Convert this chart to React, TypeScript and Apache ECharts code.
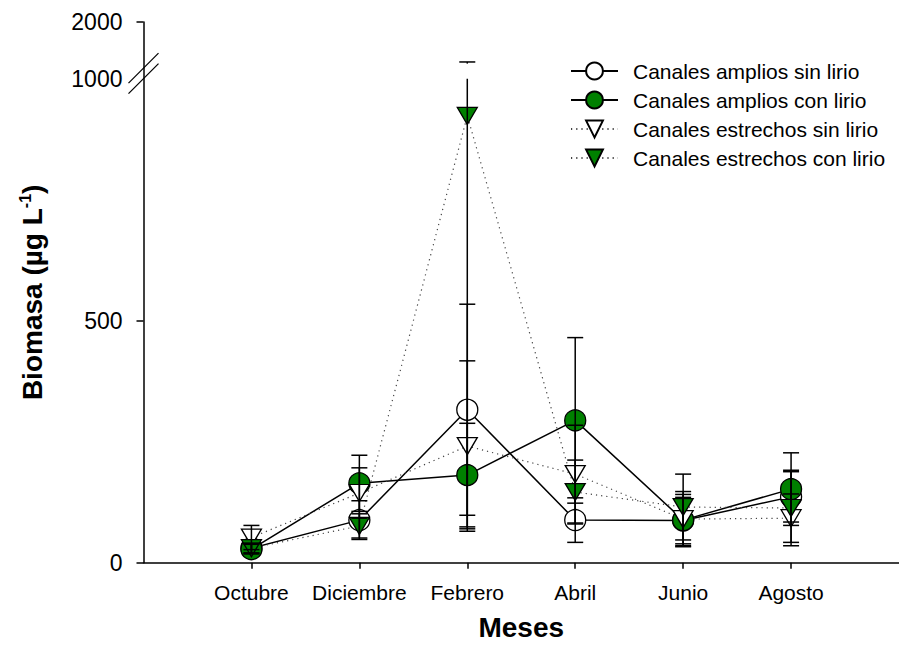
import { useEffect, useRef } from 'react';
import * as echarts from 'echarts';

// Months sampled (x positions 1..6 on a 0..7 axis)
const months = ['Octubre', 'Diciembre', 'Febrero', 'Abril', 'Junio', 'Agosto'];
const seriesNames = [
  'Canales amplios sin lirio',
  'Canales amplios con lirio',
  'Canales estrechos sin lirio',
  'Canales estrechos con lirio',
];

// Biomass means and error-bar limits (µg L-1)
const amplioSin = [30, 88, 316, 88, 87, 136];
const amplioSinLow = [20, 48, 98, 42, 39, 84];
const amplioSinHigh = [40, 128, 534, 134, 135, 188];

const amplioCon = [28, 164, 181, 294, 88, 152];
const amplioConLow = [18, 106, 74, 123, 35, 77];
const amplioConHigh = [38, 222, 288, 465, 141, 227];

const estrechoSin = [52, 144, 241, 183, 90, 92];
const estrechoSinLow = [27, 92, 65, 82, 33, 42];
const estrechoSinHigh = [77, 196, 417, 284, 147, 142];

const estrechoCon = [30, 76, 923, 146, 115, 113];
const estrechoConLow = [20, 51, 70, 80, 47, 35];
const estrechoConHigh = [40, 101, 1040, 212, 183, 191];

// Y tick labels
const yTicks = [0, 500, 1000];
const yTopLabel = '2000';

// Broken y axis: 0..1000 linear, then a compressed 1000..2000 segment
const BREAK_AT = 1000;
const UPPER_START = 1031;
const TOP_U = 1117;
const UPPER_SPAN = TOP_U - UPPER_START;
const toAxis = (v: number) =>
  v <= BREAK_AT ? v : UPPER_START + ((v - BREAK_AT) / 1000) * UPPER_SPAN;

const FONT = 'Arial, "Liberation Sans", Helvetica, sans-serif';

const pts = (vals: number[]) => vals.map((v, i) => [i + 1, toAxis(v)]);
const errs = (lows: number[], highs: number[]) => lows.map((l, i) => [i + 1, l, highs[i]]);

function errorSeries(name: string, lows: number[], highs: number[]) {
  return {
    type: 'custom',
    name: name + ' (error)',
    silent: true,
    z: 4,
    clip: false,
    data: errs(lows, highs),
    renderItem: (_p: any, api: any) => {
      const x = api.value(0);
      const lo = api.value(1);
      const hi = api.value(2);
      const pLo = api.coord([x, toAxis(lo)]);
      const pHi = api.coord([x, toAxis(hi)]);
      const style = { stroke: '#000', lineWidth: 1.5 };
      const half = 8;
      const children: any[] = [];
      if (hi > BREAK_AT) {
        const b1 = api.coord([x, BREAK_AT]);
        const b2 = api.coord([x, UPPER_START]);
        children.push({ type: 'line', shape: { x1: pLo[0], y1: pLo[1], x2: b1[0], y2: b1[1] }, style });
        children.push({ type: 'line', shape: { x1: b2[0], y1: b2[1], x2: pHi[0], y2: pHi[1] }, style });
      } else {
        children.push({ type: 'line', shape: { x1: pLo[0], y1: pLo[1], x2: pHi[0], y2: pHi[1] }, style });
      }
      children.push({ type: 'line', shape: { x1: pLo[0] - half, y1: pLo[1], x2: pLo[0] + half, y2: pLo[1] }, style });
      children.push({ type: 'line', shape: { x1: pHi[0] - half, y1: pHi[1], x2: pHi[0] + half, y2: pHi[1] }, style });
      return { type: 'group', children };
    },
  };
}

function lineSeries(name: string, vals: number[], filled: boolean, triangle: boolean) {
  return {
    type: 'line',
    name,
    data: pts(vals),
    z: 2,
    silent: true,
    symbol: triangle ? 'triangle' : 'circle',
    symbolRotate: triangle ? 180 : 0,
    symbolSize: triangle ? [20, 17] : 21,
    showSymbol: true,
    itemStyle: { color: filled ? '#008000' : '#ffffff', borderColor: '#000', borderWidth: 1.3 },
    lineStyle: triangle
      ? { color: '#444', width: 1.2, type: [1.2, 4] }
      : { color: '#000', width: 1.5, type: 'solid' },
    emphasis: { disabled: true },
  };
}

export default function App() {
  const ref = useRef<HTMLDivElement>(null);

  useEffect(() => {
    if (!ref.current) return;
    const chart = echarts.init(ref.current, undefined, { renderer: 'svg' });
    chart.setOption({
      animation: false,
      backgroundColor: '#ffffff',
      textStyle: { fontFamily: FONT },
      grid: { left: 143.5, right: 0, top: 22, bottom: 96.3, containLabel: false },
      legend: {
        data: seriesNames,
        orient: 'vertical',
        left: 570,
        top: 60.5,
        padding: 0,
        itemWidth: 47,
        itemHeight: 21,
        itemGap: 8,
        selectedMode: false,
        textStyle: { fontFamily: FONT, fontSize: 21, color: '#000', padding: [0, 0, 0, 10] },
      },
      xAxis: {
        type: 'value',
        min: 0,
        max: 7,
        interval: 1,
        name: 'Meses',
        nameLocation: 'middle',
        nameGap: 51,
        nameTextStyle: { fontFamily: FONT, fontSize: 28, fontWeight: 'bold', color: '#000' },
        axisLine: { lineStyle: { color: '#000', width: 1.5 } },
        axisTick: {
          show: true,
          inside: false,
          length: 6,
          customValues: months.map((_, i) => i + 1),
          lineStyle: { color: '#000', width: 1.5 },
        },
        axisLabel: {
          customValues: months.map((_, i) => i + 1),
          formatter: (v: number) => months[Math.round(v) - 1] ?? '',
          fontFamily: FONT,
          fontSize: 21,
          color: '#000',
          margin: 19,
        },
        splitLine: { show: false },
      },
      yAxis: {
        type: 'value',
        min: 0,
        max: TOP_U,
        name: '{a|Biomasa (µg L}{s|-1}{a|)}',
        nameLocation: 'middle',
        nameGap: 96,
        nameTextStyle: {
          rich: {
            a: { fontFamily: FONT, fontSize: 28, fontWeight: 'bold', color: '#000', lineHeight: 30 },
            s: { fontFamily: FONT, fontSize: 16, fontWeight: 'bold', color: '#000', verticalAlign: 'top', lineHeight: 30 },
          },
        },
        axisLine: { show: true, lineStyle: { color: '#000', width: 1.5 } },
        axisTick: {
          show: true,
          inside: false,
          length: 7,
          customValues: [0, 500, TOP_U],
          lineStyle: { color: '#000', width: 1.5 },
        },
        axisLabel: {
          customValues: [...yTicks, TOP_U],
          formatter: (v: number) => (v >= TOP_U - 0.5 ? yTopLabel : String(v)),
          fontFamily: FONT,
          fontSize: 23,
          color: '#000',
          margin: 21,
        },
        splitLine: { show: false },
      },
      series: [
        lineSeries(seriesNames[0], amplioSin, false, false),
        lineSeries(seriesNames[1], amplioCon, true, false),
        lineSeries(seriesNames[2], estrechoSin, false, true),
        lineSeries(seriesNames[3], estrechoCon, true, true),
        errorSeries(seriesNames[0], amplioSinLow, amplioSinHigh),
        errorSeries(seriesNames[1], amplioConLow, amplioConHigh),
        errorSeries(seriesNames[2], estrechoSinLow, estrechoSinHigh),
        errorSeries(seriesNames[3], estrechoConLow, estrechoConHigh),
        {
          // axis-break slashes on the y axis
          type: 'custom',
          silent: true,
          z: 6,
          clip: false,
          data: [[0, BREAK_AT]],
          renderItem: (_p: any, api: any) => {
            const a = api.coord([api.value(0), api.value(1)]);
            const b = api.coord([api.value(0), BREAK_AT + 0.7 * (UPPER_START - BREAK_AT)]);
            const style = { stroke: '#000', lineWidth: 1.3 };
            const d = 15;
            return {
              type: 'group',
              children: [
                { type: 'line', shape: { x1: a[0] - d, y1: a[1] + d, x2: a[0] + d, y2: a[1] - d }, style },
                { type: 'line', shape: { x1: b[0] - d, y1: b[1] + d, x2: b[0] + d, y2: b[1] - d }, style },
              ],
            };
          },
        },
      ],
    });
    return () => chart.dispose();
  }, []);

  return (
    <div
      ref={ref}
      style={{ position: 'absolute', left: 0, top: 0, width: 899, height: 659, background: '#fff' }}
    />
  );
}
